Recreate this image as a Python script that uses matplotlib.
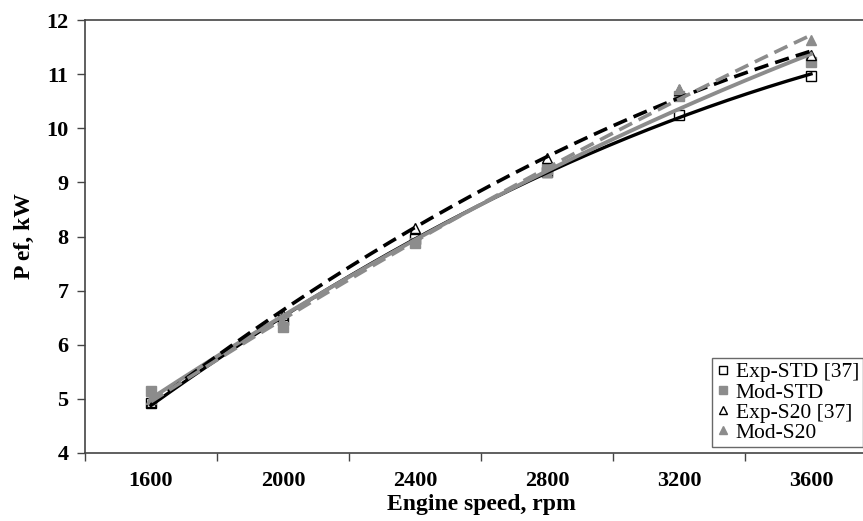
import numpy as np
import matplotlib.pyplot as plt

# engine speed categories and effective power (kW)
speeds = ["1600", "2000", "2400", "2800", "3200", "3600"]
exp_std = [4.92, 6.45, 7.95, 9.20, 10.24, 10.97]
mod_std = [5.15, 6.32, 7.88, 9.25, 10.60, 11.22]
exp_s20 = [4.95, 6.55, 8.16, 9.45, 10.70, 11.35]
mod_s20 = [5.00, 6.40, 7.90, 9.20, 10.72, 11.63]

plt.rcParams['font.family'] = ['Liberation Serif', 'DejaVu Serif']

fig = plt.figure(figsize=(8.63, 5.21), dpi=100)
# right edge of the plot area falls just outside the picture, as in the original
ax = fig.add_axes([85 / 863, 68 / 521, 792 / 863, 433 / 521])

x = np.arange(len(speeds))
xs = np.linspace(x[0], x[-1], 200)

gray = '#8c8c8c'
series = [
    (exp_std, dict(marker='s', mfc='white', mec='black'), dict(color='black', ls='-', lw=2.4), "Exp-STD [37]"),
    (mod_std, dict(marker='s', mfc=gray, mec=gray), dict(color=gray, ls='-', lw=2.8), "Mod-STD"),
    (exp_s20, dict(marker='^', mfc='white', mec='black'), dict(color='black', ls=(0, (4, 2)), lw=2.6), "Exp-S20 [37]"),
    (mod_s20, dict(marker='^', mfc=gray, mec=gray), dict(color=gray, ls=(0, (4, 2)), lw=2.6), "Mod-S20"),
]

# markers first, then the 2nd order trendlines over them
for vals, mk, ln, label in series:
    ax.plot(x, vals, ls='none', ms=7, mew=1.0, label=label, zorder=2, **mk)
for vals, mk, ln, label in series:
    coef = np.polyfit(x, vals, 2)
    ax.plot(xs, np.polyval(coef, xs), zorder=3, **ln)

ax.set_xlim(-0.5, len(speeds) - 0.5)
ax.set_ylim(4, 12)
ax.set_yticks(np.arange(4, 13, 1))

# category axis: labels at the centres, tick marks at the boundaries
ax.set_xticks(x)
ax.set_xticklabels(speeds)
ax.set_xticks(np.arange(-0.5, len(speeds) + 0.5, 1), minor=True)
ax.tick_params(axis='x', which='major', length=0, pad=13, labelsize=16)
ax.tick_params(axis='x', which='minor', length=6, width=1, color='#444444')
ax.tick_params(axis='y', length=6, width=1, color='#444444', labelsize=16, pad=6)
for lab in ax.get_xticklabels() + ax.get_yticklabels():
    lab.set_fontweight('bold')

for sp in ax.spines.values():
    sp.set_color('#444444')
    sp.set_linewidth(1.2)

ax.set_xlabel("Engine speed, rpm", fontsize=17, fontweight='bold', labelpad=2)
ax.set_ylabel("P ef, kW", fontsize=17, fontweight='bold', labelpad=8)

leg = ax.legend(loc='lower left', bbox_to_anchor=(712 / 863, 74 / 521),
                bbox_transform=fig.transFigure, fontsize=15.5, frameon=True,
                fancybox=False, edgecolor='#444444', handlelength=0.6,
                handletextpad=0.3, borderpad=0.2, labelspacing=0.0,
                borderaxespad=0, markerscale=0.8)
leg.get_frame().set_linewidth(1.0)

fig.savefig("out.png", dpi=100)
